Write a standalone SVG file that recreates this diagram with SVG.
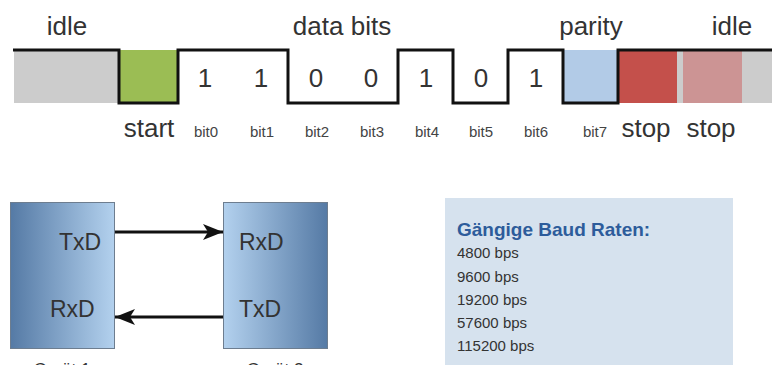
<svg xmlns="http://www.w3.org/2000/svg" width="772" height="365" viewBox="0 0 772 365">
  <defs>
    <linearGradient id="g1" x1="0" y1="0" x2="1" y2="0">
      <stop offset="0" stop-color="#557aa5"/>
      <stop offset="1" stop-color="#b3d1ee"/>
    </linearGradient>
    <linearGradient id="g2" x1="0" y1="0" x2="1" y2="0">
      <stop offset="0" stop-color="#b3d1ee"/>
      <stop offset="1" stop-color="#557aa5"/>
    </linearGradient>
    <marker id="ah" viewBox="0 0 20 16" refX="20" refY="8" markerWidth="20" markerHeight="16" markerUnits="userSpaceOnUse" orient="auto">
      <path d="M0,0 L20,8 L0,16 L5,8 Z" fill="#111"/>
    </marker>
  </defs>
  <style>
    .big { font-family: "Liberation Sans", Arial, sans-serif; font-size: 26px; fill: #333; text-anchor: middle; }
    .bit { font-family: "Liberation Sans", Arial, sans-serif; font-size: 15px; fill: #444; text-anchor: middle; }
    .port { font-family: "Liberation Sans", Arial, sans-serif; font-size: 23px; fill: #333; }
    .dev { font-family: "Liberation Sans", Arial, sans-serif; font-size: 17px; fill: #333; text-anchor: middle; }
    .rate { font-family: "Liberation Sans", Arial, sans-serif; font-size: 15px; fill: #333; }
    .box { stroke: #6d7d8f; stroke-width: 1; }
  </style>

  <g id="signal">
    <rect x="14" y="50" width="105" height="53" fill="#cccccc"/>
    <rect x="119" y="50" width="59" height="53" fill="#9bbd54"/>
    <rect x="563" y="50" width="55" height="53" fill="#b2cbe7"/>
    <rect x="618" y="50" width="59" height="53" fill="#c4504b"/>
    <rect x="677" y="50" width="6" height="53" fill="#cccccc"/>
    <rect x="683" y="50" width="59" height="53" fill="#cc9494"/>
    <rect x="742" y="50" width="30" height="53" fill="#cccccc"/>
    <path d="M13,50 H119 V103 H178 V50 H288 V103 H398 V50 H453 V103 H508 V50 H563 V103 H618 V50 H772" fill="none" stroke="#111" stroke-width="3"/>
    <text class="big" x="67" y="35">idle</text>
    <text class="big" x="342" y="35">data bits</text>
    <text class="big" x="591" y="35">parity</text>
    <text class="big" x="732" y="35">idle</text>
    <text class="big" x="205" y="87">1</text>
    <text class="big" x="261" y="87">1</text>
    <text class="big" x="316" y="87">0</text>
    <text class="big" x="371" y="87">0</text>
    <text class="big" x="426" y="87">1</text>
    <text class="big" x="481" y="87">0</text>
    <text class="big" x="536" y="87">1</text>
    <text class="big" x="149" y="137">start</text>
    <text class="bit" x="206" y="137">bit0</text>
    <text class="bit" x="262" y="137">bit1</text>
    <text class="bit" x="317" y="137">bit2</text>
    <text class="bit" x="372" y="137">bit3</text>
    <text class="bit" x="427" y="137">bit4</text>
    <text class="bit" x="481" y="137">bit5</text>
    <text class="bit" x="536" y="137">bit6</text>
    <text class="bit" x="595" y="137">bit7</text>
    <text class="big" x="646" y="137">stop</text>
    <text class="big" x="711" y="137">stop</text>
  </g>

  <g id="geraet1">
    <rect class="box" x="10.5" y="202.5" width="104" height="146" fill="url(#g1)"/>
    <text class="port" x="59" y="250">TxD</text>
    <text class="port" x="50" y="317">RxD</text>
    <text class="dev" x="62" y="375">Gerät 1</text>
  </g>

  <g id="geraet2">
    <rect class="box" x="223.5" y="202.5" width="104" height="146" fill="url(#g2)"/>
    <text class="port" x="239" y="250">RxD</text>
    <text class="port" x="239" y="317">TxD</text>
    <text class="dev" x="275" y="375">Gerät 2</text>
  </g>

  <g id="connectors">
    <line x1="115" y1="232" x2="223" y2="232" stroke="#111" stroke-width="3" marker-end="url(#ah)"/>
    <line x1="223" y1="317" x2="115" y2="317" stroke="#111" stroke-width="3" marker-end="url(#ah)"/>
  </g>

  <g id="baudraten">
    <rect x="445" y="198" width="288" height="170" fill="#d6e2ee"/>
    <text x="457" y="236" font-family="Liberation Sans, Arial, sans-serif" font-size="19" font-weight="bold" fill="#2d5c9b">Gängige Baud Raten:</text>
    <text class="rate" x="457" y="258">4800 bps</text>
    <text class="rate" x="457" y="282">9600 bps</text>
    <text class="rate" x="457" y="305">19200 bps</text>
    <text class="rate" x="457" y="328">57600 bps</text>
    <text class="rate" x="457" y="351">115200 bps</text>
  </g>
</svg>
